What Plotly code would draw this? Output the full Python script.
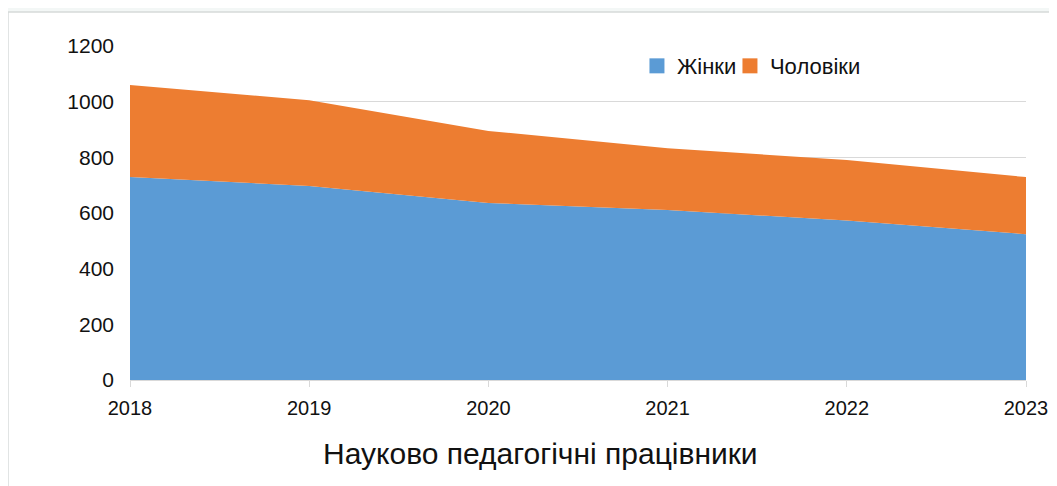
import plotly.graph_objects as go

# values
years = [2018, 2019, 2020, 2021, 2022, 2023]
women = [729, 697, 636, 611, 573, 524]
men = [331, 308, 259, 222, 217, 205]
series_names = ["Жінки", "Чоловіки"]
colors = ["#5b9bd5", "#ed7d31"]

FONT = "Liberation Sans"

fig = go.Figure()
for name, vals, col in zip(series_names, [women, men], colors):
    fig.add_trace(go.Scatter(
        x=years, y=vals, name=name, mode="none",
        stackgroup="one", fillcolor=col, showlegend=False,
    ))
# square legend keys like the original, one legend box per key
for name, col, leg in zip(series_names, colors, ["legend", "legend2"]):
    fig.add_trace(go.Scatter(
        x=[None], y=[None], name=name, mode="markers", legend=leg,
        marker=dict(symbol="square", size=15, color=col),
    ))

# white card on the light grey page
fig.add_shape(
    type="rect", xref="paper", yref="paper", layer="below",
    x0=-0.1362, x1=1.1, y0=-0.4, y1=1.1018,
    fillcolor="white", line=dict(color="#d6dad9", width=1.5),
)

fig.add_annotation(
    text="Науково педагогічні працівники",
    xref="paper", yref="paper", x=0.4587, y=-0.2186,
    xanchor="center", yanchor="middle", showarrow=False,
    font=dict(size=30, color="#111111"),
)

legend_style = dict(
    orientation="h", y=0.94, xanchor="left", yanchor="middle",
    font=dict(size=22), bgcolor="rgba(0,0,0,0)",
)

# the page body has an 8px margin, so the figure is shifted by it
fig.update_layout(
    width=1041, height=478,
    margin=dict(l=122, r=23, t=38, b=106),
    paper_bgcolor="#f3f7f6",
    plot_bgcolor="rgba(0,0,0,0)",
    font=dict(family=FONT, size=21, color="#111111"),
    showlegend=True,
    legend=dict(x=0.5658, **legend_style),
    legend2=dict(x=0.6696, **legend_style),
    xaxis=dict(
        range=[2018, 2023], dtick=1, tick0=2018,
        showgrid=False, zeroline=False,
        showline=True, linecolor="#d9d9d9", linewidth=1,
        ticks="outside", ticklen=6, tickcolor="#d9d9d9",
        tickfont=dict(size=20),
        ticklabelstandoff=4, ticklabeloverflow="allow",
        automargin=False,
    ),
    yaxis=dict(
        range=[0, 1200], dtick=200,
        showgrid=True, gridcolor="#d9d9d9", gridwidth=1,
        zeroline=False, showline=False,
        ticklabelstandoff=15, automargin=False,
    ),
)

fig.write_html("out.html")
